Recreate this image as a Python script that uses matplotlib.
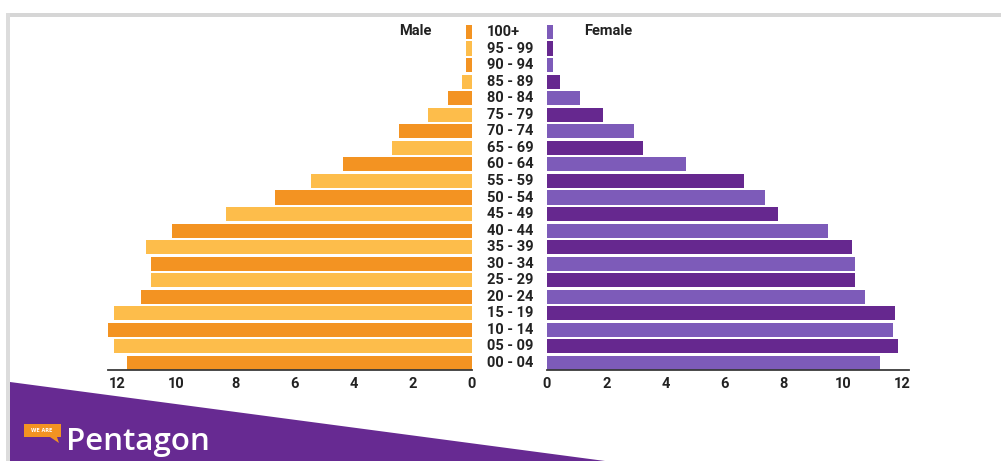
import numpy as np
import matplotlib.pyplot as plt
from matplotlib.patches import Polygon, Rectangle

# population share (%) by age band, youngest first
age_groups = ["00 - 04", "05 - 09", "10 - 14", "15 - 19", "20 - 24", "25 - 29",
              "30 - 34", "35 - 39", "40 - 44", "45 - 49", "50 - 54", "55 - 59",
              "60 - 64", "65 - 69", "70 - 74", "75 - 79", "80 - 84", "85 - 89",
              "90 - 94", "95 - 99", "100+"]
male = [11.65, 12.1, 12.3, 12.1, 11.2, 10.85, 10.85, 11.0, 10.15, 8.3, 6.65,
        5.45, 4.35, 2.7, 2.45, 1.5, 0.8, 0.35, 0.2, 0.2, 0.2]
female = [11.25, 11.85, 11.7, 11.75, 10.75, 10.4, 10.4, 10.3, 9.5, 7.8, 7.35,
          6.65, 4.7, 3.25, 2.95, 1.9, 1.1, 0.45, 0.2, 0.2, 0.2]
ticks = [0, 2, 4, 6, 8, 10, 12]

W, H = 1001, 461
fig = plt.figure(figsize=(W / 100, H / 100), dpi=100)
fig.patch.set_facecolor("white")


def px_axes(x0, x1, y_top, y_bot):
    return fig.add_axes([x0 / W, 1 - y_bot / H, (x1 - x0) / W, (y_bot - y_top) / H])


font = dict(family=["Roboto", "DejaVu Sans"], weight="bold")
y = np.arange(len(age_groups))
bar_h = 0.85
y_top, y_bot = 23.7, 370

male_cols = ["#F39322" if i % 2 == 0 else "#FDBD4B" for i in y]
female_cols = ["#7D5BB9" if i % 2 == 0 else "#66288F" for i in y]

axl = px_axes(108, 472, y_top, y_bot)
axl.barh(y, male, height=bar_h, color=male_cols)
axl.set_xlim(12.3, 0)

axr = px_axes(547, 909, y_top, y_bot)
axr.barh(y, female, height=bar_h, color=female_cols)
axr.set_xlim(0, 12.23)

for ax in (axl, axr):
    ax.set_ylim(-0.425, 20.5)
    ax.set_facecolor("none")
    for s in ("top", "left", "right"):
        ax.spines[s].set_visible(False)
    ax.spines["bottom"].set_color("#3a3a3a")
    ax.spines["bottom"].set_linewidth(1.3)
    ax.set_yticks([])
    ax.set_xticks(ticks)
    ax.set_xticklabels([str(t) for t in ticks], fontsize=10.5, color="#222222", **font)
    ax.tick_params(axis="x", length=0, pad=5)

# age labels in the middle column
for i, lab in enumerate(age_groups):
    yc = 363 - i * 16.55
    fig.text(487 / W, 1 - yc / H, lab, ha="left", va="center", fontsize=10.5,
             color="#222222", **font)

fig.text(415 / W, 1 - 31 / H, "Male", ha="center", va="center", fontsize=10.5,
         color="#222222", **font)
fig.text(608 / W, 1 - 31 / H, "Female", ha="center", va="center", fontsize=10.5,
         color="#222222", **font)

# frame and footer banner
fig.patches.append(Rectangle((6 / W, 1 - 17 / H), 1, 4 / H, transform=fig.transFigure,
                             color="#d6d6d6", lw=0))
fig.patches.append(Rectangle((6 / W, 0), 4 / W, 1 - 13 / H, transform=fig.transFigure,
                             color="#dcdcdc", lw=0))
banner = [(10, 382), (605, 461), (10, 461)]
fig.patches.append(Polygon([(x / W, 1 - yy / H) for x, yy in banner], closed=True,
                           transform=fig.transFigure, color="#672A92", lw=0))
tag = [(24, 424), (61, 424), (61, 437), (57, 437), (59, 443), (50, 437), (24, 437)]
fig.patches.append(Polygon([(x / W, 1 - yy / H) for x, yy in tag], closed=True,
                           transform=fig.transFigure, color="#F39322", lw=0))
fig.text(42 / W, 1 - 430.5 / H, "WE ARE", ha="center", va="center", fontsize=3.5,
         color="white", weight="bold")
fig.text(66 / W, 1 - 450 / H, "Pentagon", ha="left", va="baseline", fontsize=22.5,
         color="white", family="Open Sans", weight="semibold")

fig.savefig("out.png", dpi=100)
